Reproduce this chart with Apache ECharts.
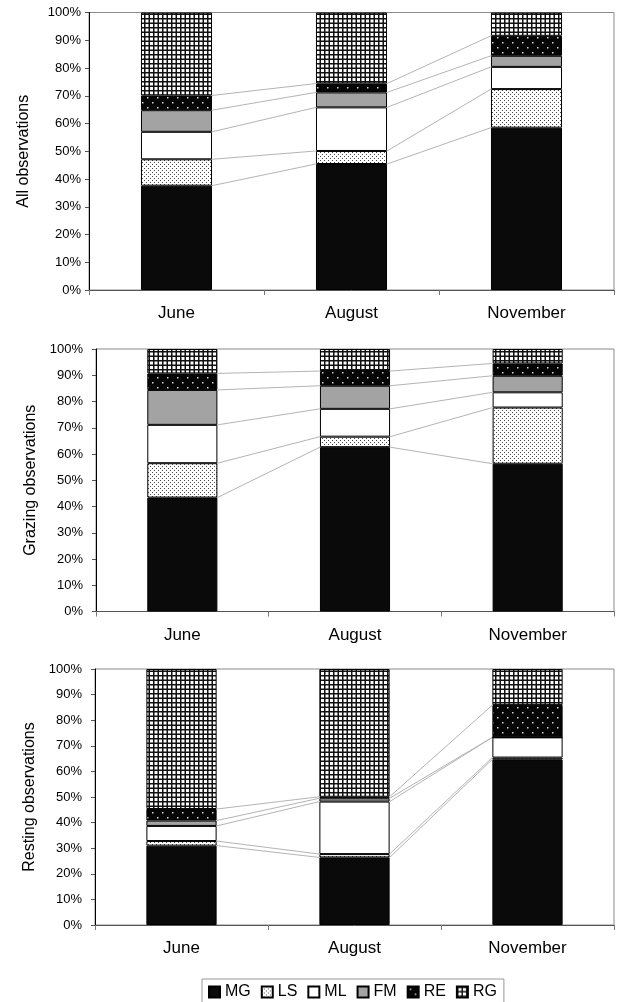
<!DOCTYPE html>
<html>
<head>
<meta charset="utf-8">
<script src="https://cdn.jsdelivr.net/npm/echarts@6/dist/echarts.min.js"></script>
<style>
  html, body { margin: 0; padding: 0; background: #fff; }
  #chart { width: 619px; height: 1002px; }
</style>
</head>
<body>
<div id="chart"></div>
<script>
// Categories and labels
const months = ['June', 'August', 'November'];
const classes = ['MG', 'LS', 'ML', 'FM', 'RE', 'RG'];
const panelTitles = ['All observations', 'Grazing observations', 'Resting observations'];
const yTickStep = 10;

// Share of observations (%) per class, June / August / November
const allMG = [37.6, 45.4, 58.5];
const allLS = [9.5, 4.7, 13.9];
const allML = [9.9, 15.7, 8.0];
const allFM = [7.8, 5.4, 4.0];
const allRE = [5.3, 3.2, 7.2];
const allRG = [29.9, 25.6, 8.4];

const grzMG = [43.4, 62.6, 56.3];
const grzLS = [13.1, 4.0, 21.4];
const grzML = [14.6, 10.6, 5.8];
const grzFM = [13.3, 8.8, 6.3];
const grzRE = [6.3, 5.6, 4.7];
const grzRG = [9.3, 8.4, 5.5];

const resMG = [31.0, 26.4, 64.7];
const resLS = [1.8, 1.3, 0.7];
const resML = [5.9, 20.5, 7.9];
const resFM = [2.1, 1.3, 0.0];
const resRE = [4.5, 0.6, 12.6];
const resRG = [54.7, 49.9, 14.1];

const panels = [
  [allMG, allLS, allML, allFM, allRE, allRG],
  [grzMG, grzLS, grzML, grzFM, grzRE, grzRG],
  [resMG, resLS, resML, resFM, resRE, resRG]
];

// Fill patterns
function makePattern(w, h, draw) {
  const c = document.createElement('canvas');
  c.width = w; c.height = h;
  const ctx = c.getContext('2d');
  draw(ctx);
  return { image: c, repeat: 'repeat' };
}
const patLS = makePattern(4, 4, ctx => {
  ctx.fillStyle = '#fff'; ctx.fillRect(0, 0, 4, 4);
  ctx.fillStyle = '#444';
  ctx.fillRect(0, 0, 1, 1); ctx.fillRect(2, 2, 1, 1);
});
const patRE = makePattern(10, 10, ctx => {
  ctx.fillStyle = '#050505'; ctx.fillRect(0, 0, 10, 10);
  ctx.fillStyle = '#d8d8d8';
  ctx.fillRect(2, 2, 1.5, 1.5); ctx.fillRect(7, 7, 1.5, 1.5);
});
const patRG = makePattern(9, 9, ctx => {
  ctx.fillStyle = '#fff'; ctx.fillRect(0, 0, 9, 9);
  ctx.fillStyle = '#111';
  ctx.fillRect(0, 0, 9, 1.5); ctx.fillRect(0, 4.5, 9, 1.5);
  ctx.fillRect(0, 0, 1.5, 9); ctx.fillRect(4.5, 0, 1.5, 9);
});
const fills = ['#0a0a0a', patLS, '#ffffff', '#a3a3a3', patRE, patRG];

const BAR_FRAC = 0.406;
const FONT = '"Liberation Sans", Arial, sans-serif';

const grids = [
  { left: 89, right: 5, top: 12.5, height: 277.5 },
  { left: 96, right: 5, top: 349, height: 262.5 },
  { left: 95, right: 5, top: 669, height: 256 }
];

const xAxes = [], yAxes = [], series = [];
grids.forEach((g, p) => {
  g.show = true;
  g.borderColor = '#8a8a8a';
  g.borderWidth = 1;
  xAxes.push({
    type: 'category', gridIndex: p, data: months, boundaryGap: true,
    axisLine: { show: true, lineStyle: { color: '#555', width: 1 } },
    axisTick: { show: true, length: 5, interval: 0, lineStyle: { color: '#777' } },
    axisLabel: { color: '#000', fontSize: 17, fontFamily: FONT, margin: 15 },
    splitLine: { show: false }
  });
  yAxes.push({
    type: 'value', gridIndex: p, min: 0, max: 100, interval: yTickStep,
    name: panelTitles[p], nameLocation: 'middle', nameRotate: 90, nameGap: 57,
    nameTextStyle: { color: '#000', fontSize: 16, fontFamily: FONT },
    axisLine: { show: true, lineStyle: { color: '#000', width: 1 } },
    axisTick: { show: true, length: 4, lineStyle: { color: '#555' } },
    axisLabel: { color: '#000', fontSize: 13, fontFamily: FONT, margin: p === 0 ? 8 : 13, formatter: '{value}%' },
    splitLine: { show: false }
  });
  const vals = panels[p];
  vals.forEach((arr, k) => {
    series.push({
      type: 'bar', name: classes[k], xAxisIndex: p, yAxisIndex: p,
      stack: 'panel' + p, data: arr, barWidth: (BAR_FRAC * 100) + '%',
      itemStyle: { color: fills[k], borderColor: '#000', borderWidth: 1 },
      emphasis: { disabled: true }, z: 3
    });
  });
  // Series lines joining the segment boundaries of neighbouring bars
  const links = [];
  for (let k = 0; k < 5; k++) {
    const cum = months.map((m, i) => {
      let s = 0;
      for (let j = 0; j <= k; j++) s += vals[j][i];
      return s;
    });
    for (let i = 0; i < months.length - 1; i++) links.push([i, cum[i], cum[i + 1]]);
  }
  series.push({
    type: 'custom', xAxisIndex: p, yAxisIndex: p, data: links, z: 2,
    encode: { x: 0, y: 1 }, silent: true,
    renderItem: (params, api) => {
      const i = api.value(0);
      const a = api.coord([i, api.value(1)]);
      const b = api.coord([i + 1, api.value(2)]);
      const half = api.size([1, 0])[0] * BAR_FRAC / 2;
      return {
        type: 'line',
        shape: { x1: a[0] + half, y1: a[1], x2: b[0] - half, y2: b[1] },
        style: { stroke: '#b4b4b4', lineWidth: 1 }
      };
    }
  });
});

const chart = echarts.init(document.getElementById('chart'), null, { renderer: 'canvas' });
chart.setOption({
  animation: false,
  backgroundColor: '#fff',
  grid: grids,
  xAxis: xAxes,
  yAxis: yAxes,
  legend: {
    data: classes.map(n => ({ name: n, icon: 'rect' })), left: 202, top: 979,
    itemWidth: 11, itemHeight: 11, itemGap: 10,
    padding: [5, 7, 5, 6],
    borderColor: '#999', borderWidth: 1,
    textStyle: { color: '#000', fontSize: 16, fontFamily: FONT },
    selectedMode: false
  },
  series: series
});
</script>
</body>
</html>
